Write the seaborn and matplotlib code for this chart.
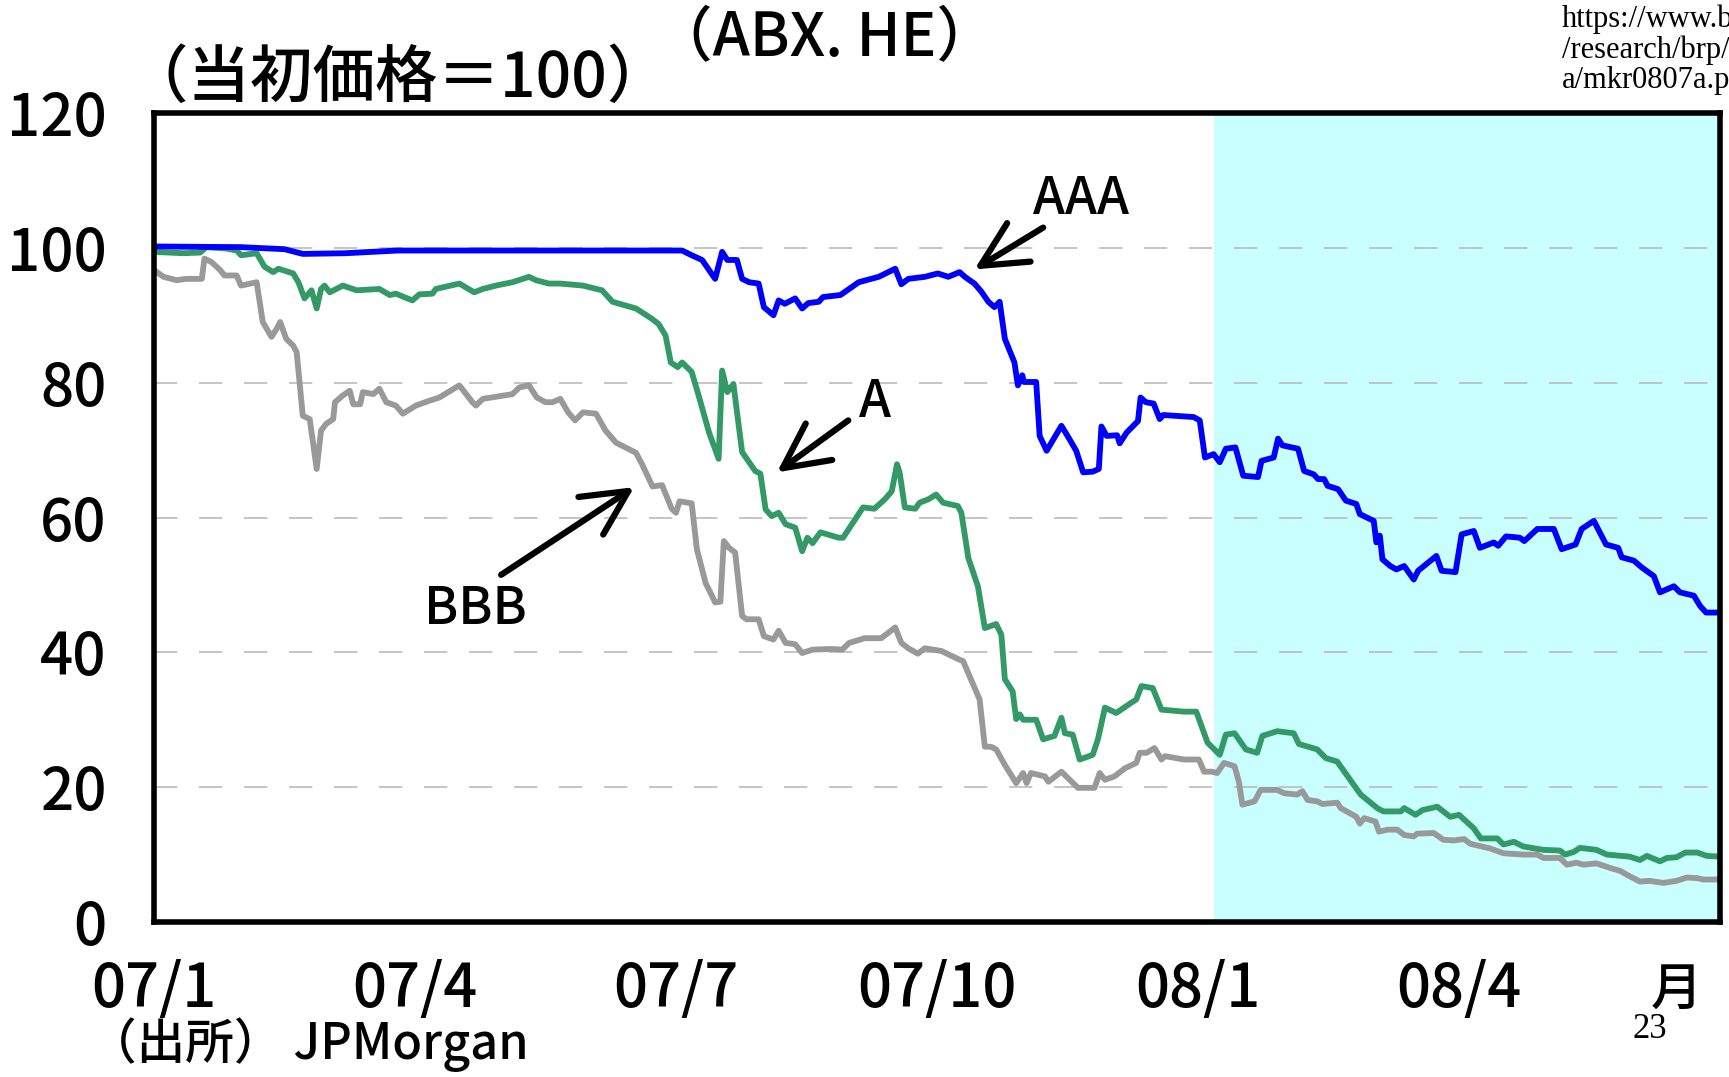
import matplotlib
matplotlib.use("Agg")
import matplotlib.pyplot as plt
import pandas as pd
import seaborn as sns

# ABX.HE price indices, months elapsed since 2007/01, initial price = 100
aaa_month = [0.0, 1.0, 1.5, 1.71, 2.2, 2.8, 6.07, 6.18, 6.3, 6.45, 6.53, 6.59, 6.70, 6.76, 6.84, 6.95,
             7.01, 7.12, 7.18, 7.25, 7.37, 7.45, 7.52, 7.64, 7.69, 7.89, 8.10, 8.33, 8.52, 8.59, 8.67,
             8.86, 9.01, 9.13, 9.26, 9.32, 9.43, 9.51, 9.59, 9.66, 9.72, 9.78, 9.89, 9.93, 9.98, 10.0,
             10.14, 10.18, 10.26, 10.43, 10.51, 10.60, 10.68, 10.79, 10.86, 10.89, 10.95, 11.07, 11.1,
             11.18, 11.31, 11.34, 11.4, 11.49, 11.56, 11.6, 11.95, 12.02, 12.08, 12.18, 12.25, 12.32,
             12.43, 12.52, 12.69, 12.73, 12.87, 12.92, 12.97, 13.15, 13.22, 13.33, 13.38, 13.45, 13.49,
             13.61, 13.7, 13.82, 13.86, 14.02, 14.05, 14.09, 14.12, 14.21, 14.28, 14.37, 14.48, 14.53,
             14.74, 14.8, 14.96, 15.03, 15.17, 15.24, 15.4, 15.45, 15.54, 15.7, 15.75, 15.9, 16.09,
             16.18, 16.34, 16.41, 16.55, 16.69, 16.83, 16.87, 17.01, 17.1, 17.24, 17.31, 17.47, 17.54,
             17.7, 17.77, 17.84, 18.0]
aaa_value = [100.2, 100.1, 99.8, 99.1, 99.2, 99.6, 99.6, 98.9, 98.2, 95.4, 99.4, 98.2, 98.2, 95.4, 94.9,
             94.7, 91.2, 90.0, 92.2, 91.7, 92.5, 91.0, 91.8, 92.0, 92.7, 93.0, 94.9, 95.7, 96.9, 94.6,
             95.4, 95.7, 96.2, 95.7, 96.4, 95.7, 94.7, 93.5, 92.0, 91.2, 92.0, 86.5, 83.0, 79.6, 81.1,
             80.1, 80.1, 72.1, 69.9, 73.6, 71.9, 69.9, 66.7, 66.8, 67.2, 73.5, 72.1, 72.2, 71.0, 72.6,
             74.3, 77.8, 77.1, 76.9, 74.6, 75.2, 74.9, 74.4, 68.9, 69.4, 68.2, 70.2, 70.4, 66.2, 66.0,
             68.4, 68.9, 71.7, 70.7, 70.2, 66.9, 66.4, 65.7, 65.7, 64.7, 64.2, 62.5, 62.0, 60.5, 59.5,
             56.3, 57.3, 53.8, 52.8, 52.3, 52.8, 50.8, 52.1, 54.3, 52.1, 51.9, 57.5, 58.0, 55.5, 56.3,
             55.8, 57.2, 57.0, 56.5, 58.3, 58.3, 55.3, 56.0, 58.3, 59.5, 56.0, 55.5, 54.1, 53.6, 52.6,
             51.3, 48.9, 49.8, 48.9, 48.4, 46.9, 45.9, 45.9]

a_month = [0.0, 0.34, 0.53, 0.60, 0.83, 0.95, 1.0, 1.18, 1.27, 1.37, 1.43, 1.6, 1.66, 1.73, 1.81, 1.87,
           1.92, 1.96, 2.02, 2.17, 2.33, 2.59, 2.71, 2.78, 2.97, 3.05, 3.2, 3.24, 3.51, 3.68, 3.78, 3.93,
           4.12, 4.31, 4.39, 4.54, 4.67, 4.93, 5.15, 5.27, 5.54, 5.72, 5.8, 5.88, 5.94, 6.02, 6.07, 6.18,
           6.26, 6.38, 6.49, 6.53, 6.59, 6.66, 6.76, 6.91, 6.97, 7.03, 7.1, 7.18, 7.26, 7.37, 7.45, 7.51,
           7.57, 7.66, 7.87, 7.92, 8.15, 8.28, 8.4, 8.48, 8.54, 8.57, 8.63, 8.75, 8.8, 8.9, 8.99, 9.07,
           9.24, 9.28, 9.36, 9.47, 9.55, 9.68, 9.74, 9.78, 9.87, 9.91, 9.95, 9.99, 10.14, 10.22, 10.35,
           10.43, 10.47, 10.56, 10.64, 10.79, 10.85, 10.93, 11.06, 11.23, 11.29, 11.35, 11.48, 11.58,
           11.84, 11.98, 12.11, 12.25, 12.32, 12.42, 12.55, 12.68, 12.74, 12.91, 13.1, 13.16, 13.37,
           13.47, 13.6, 13.87, 14.06, 14.13, 14.33, 14.37, 14.5, 14.58, 14.75, 14.9, 15.0, 15.17, 15.25,
           15.44, 15.51, 15.63, 15.74, 15.97, 16.16, 16.22, 16.32, 16.39, 16.58, 16.7, 16.96, 17.08,
           17.16, 17.31, 17.39, 17.5, 17.6, 17.74, 17.85, 18.0]
a_value = [99.4, 99.2, 99.3, 100.1, 99.9, 99.6, 98.9, 99.2, 97.2, 96.4, 96.9, 96.2, 94.9, 92.5, 93.7,
           91.0, 93.9, 94.4, 93.4, 94.4, 93.7, 93.9, 93.0, 93.2, 92.2, 93.1, 93.2, 93.9, 94.7, 93.4, 93.9,
           94.4, 94.9, 95.7, 95.2, 94.7, 94.7, 94.4, 93.7, 92.0, 91.0, 89.5, 88.7, 87.0, 83.0, 82.3, 83.0,
           81.6, 78.1, 72.6, 68.7, 81.8, 78.6, 79.8, 69.7, 66.9, 66.5, 61.2, 60.2, 60.7, 59.0, 58.5, 55.0,
           57.0, 56.2, 57.8, 57.0, 57.0, 61.5, 61.3, 62.7, 63.9, 67.9, 66.7, 61.5, 61.3, 62.2, 62.7, 63.4,
           62.2, 61.7, 60.7, 54.0, 49.8, 43.6, 44.2, 42.6, 36.0, 34.2, 30.1, 30.8, 30.0, 30.0, 27.1, 27.6,
           30.3, 28.0, 27.8, 24.1, 24.8, 27.1, 31.8, 31.0, 32.5, 33.0, 35.0, 34.7, 31.5, 31.2, 31.2, 26.6,
           24.8, 27.8, 28.0, 25.6, 25.1, 27.6, 28.3, 28.0, 26.4, 25.6, 24.3, 23.8, 18.9, 16.9, 16.4, 16.4,
           16.9, 15.9, 16.6, 17.1, 15.6, 15.9, 13.9, 12.4, 12.4, 11.5, 11.9, 11.2, 10.7, 10.6, 10.0, 10.4,
           11.0, 10.7, 10.0, 9.7, 9.2, 9.8, 9.0, 9.5, 9.6, 10.3, 10.3, 9.8, 9.7]

bbb_month = [0.0, 0.11, 0.26, 0.37, 0.55, 0.58, 0.66, 0.76, 0.81, 0.95, 1.0, 1.18, 1.25, 1.35, 1.41,
             1.45, 1.52, 1.6, 1.64, 1.71, 1.79, 1.87, 1.92, 1.98, 2.06, 2.08, 2.17, 2.25, 2.29, 2.37,
             2.4, 2.52, 2.59, 2.67, 2.78, 2.86, 3.01, 3.16, 3.28, 3.51, 3.66, 3.7, 3.78, 4.12, 4.2, 4.31,
             4.4, 4.5, 4.58, 4.67, 4.76, 4.84, 4.93, 5.08, 5.19, 5.31, 5.54, 5.61, 5.73, 5.84, 5.95, 6.0,
             6.04, 6.18, 6.24, 6.34, 6.45, 6.51, 6.55, 6.61, 6.68, 6.76, 6.81, 6.95, 7.01, 7.12, 7.18,
             7.26, 7.37, 7.45, 7.57, 7.79, 7.91, 7.99, 8.17, 8.36, 8.52, 8.59, 8.67, 8.78, 8.86, 9.05,
             9.26, 9.3, 9.43, 9.49, 9.55, 9.62, 9.68, 9.78, 9.91, 9.99, 10.03, 10.08, 10.24, 10.28, 10.43,
             10.62, 10.81, 10.87, 10.93, 11.04, 11.16, 11.29, 11.33, 11.41, 11.5, 11.58, 11.62, 11.84,
             12.01, 12.07, 12.16, 12.22, 12.3, 12.42, 12.47, 12.51, 12.65, 12.72, 12.91, 12.99, 13.14,
             13.2, 13.26, 13.37, 13.43, 13.6, 13.64, 13.82, 13.86, 13.91, 14.04, 14.08, 14.18, 14.29,
             14.37, 14.48, 14.52, 14.71, 14.82, 14.94, 15.06, 15.13, 15.36, 15.51, 15.74, 15.9, 15.97,
             16.16, 16.24, 16.35, 16.43, 16.58, 16.74, 16.85, 16.93, 17.08, 17.19, 17.35, 17.5, 17.62,
             17.74, 17.81, 18.0]
bbb_value = [96.7, 95.7, 95.2, 95.4, 95.4, 98.4, 97.9, 96.7, 95.9, 95.9, 94.4, 94.9, 89.0, 86.8, 88.0,
             89.0, 86.5, 85.5, 84.5, 75.1, 74.6, 67.2, 72.9, 73.9, 74.6, 77.1, 78.1, 78.8, 76.8, 76.8,
             78.6, 78.3, 79.1, 77.1, 76.6, 75.4, 76.6, 77.3, 77.8, 79.6, 77.1, 76.6, 77.6, 78.3, 79.3,
             79.6, 77.8, 77.1, 77.1, 77.6, 75.6, 74.4, 75.6, 75.4, 72.9, 71.1, 69.6, 67.9, 64.6, 64.8,
             61.3, 60.7, 62.4, 62.1, 55.3, 50.3, 47.4, 47.5, 56.5, 55.5, 54.8, 45.4, 44.9, 44.9, 42.4,
             41.9, 43.2, 41.4, 41.2, 39.9, 40.4, 40.5, 40.4, 41.4, 42.1, 42.1, 43.7, 41.4, 40.6, 39.8,
             40.6, 40.2, 38.9, 38.7, 34.8, 33.0, 26.0, 26.0, 25.6, 23.3, 20.6, 22.1, 20.6, 22.1, 21.6,
             20.8, 22.3, 19.9, 19.9, 22.1, 21.1, 21.6, 22.8, 23.6, 25.1, 25.1, 25.8, 24.1, 24.6, 24.1,
             24.1, 22.3, 22.3, 22.1, 23.6, 23.1, 20.8, 17.4, 17.9, 19.6, 19.6, 19.1, 18.9, 19.4, 18.1,
             17.9, 17.5, 17.7, 16.9, 15.6, 14.6, 15.4, 14.9, 13.4, 13.7, 13.7, 12.9, 12.7, 13.1, 13.2,
             12.2, 12.1, 12.3, 11.6, 10.9, 10.2, 10.0, 10.0, 9.5, 9.5, 8.5, 8.8, 8.5, 8.7, 8.0, 7.6,
             7.0, 6.0, 6.1, 5.8, 6.1, 6.6, 6.5, 6.3, 6.3]

series_names = ["BBB", "A", "AAA"]
series_colors = {"AAA": "#0000FF", "A": "#339966", "BBB": "#999999"}

tick_months = [0, 3, 6, 9, 12, 15]
tick_labels = ["07/1", "07/4", "07/7", "07/10", "08/1", "08/4"]
y_ticks = [0, 20, 40, 60, 80, 100, 120]
shade_start, shade_end = 12.18, 18.0

sns.set_style("white")
plt.rcParams["font.family"] = ["Noto Sans CJK JP", "DejaVu Sans"]
plt.rcParams["font.weight"] = "medium"
plt.rcParams["text.color"] = "black"
plt.rcParams["xtick.color"] = "black"
plt.rcParams["ytick.color"] = "black"

W, H = 1729, 1077
fig = plt.figure(figsize=(W / 100, H / 100), dpi=100)
ax = fig.add_axes([154 / W, 1 - 922 / H, (1720 - 154) / W, (922 - 113) / H])

ax.axvspan(shade_start, shade_end, color="#C9FFFF", lw=0, zorder=0)

frames = []
for name, m, v in [("AAA", aaa_month, aaa_value), ("A", a_month, a_value), ("BBB", bbb_month, bbb_value)]:
    frames.append(pd.DataFrame({"month": m, "value": v, "series": name}))
df = pd.concat(frames, ignore_index=True)

sns.lineplot(data=df, x="month", y="value", hue="series", hue_order=series_names,
             palette=series_colors, estimator=None, sort=False, legend=False,
             linewidth=4.2, ax=ax)
for line in ax.lines:
    line.set_solid_joinstyle("round")
    line.set_solid_capstyle("round")

ax.set_xlim(0, 18)
ax.set_ylim(0, 120)
ax.set_xticks(tick_months)
ax.set_xticklabels(tick_labels)
ax.set_yticks(y_ticks)
ax.set_xlabel("")
ax.set_ylabel("")
ax.tick_params(axis="x", direction="out", length=11, width=3.5, pad=16, labelsize=43)
ax.tick_params(axis="y", length=0, pad=34, labelsize=42)
ax.set_axisbelow(True)
ax.yaxis.grid(True, color="#BBBBBB", linestyle=(0, (14, 13)), linewidth=1.2)
ax.xaxis.grid(False)
for s in ax.spines.values():
    s.set_linewidth(4)
    s.set_color("black")

# series labels with pointer arrows
arrow_kw = dict(arrowstyle="->,head_length=0.9,head_width=0.45", lw=4.5, color="black",
                mutation_scale=36, shrinkA=0, shrinkB=0)
ax.annotate("", xy=(9.43, 96.8), xytext=(10.22, 103.0), arrowprops=arrow_kw)
ax.annotate("", xy=(7.16, 66.7), xytext=(7.98, 74.4), arrowprops=arrow_kw)
ax.annotate("", xy=(5.52, 64.5), xytext=(3.99, 51.5), arrowprops=arrow_kw)
ax.text(10.66, 107.2, "AAA", ha="center", va="center", fontsize=37)
ax.text(8.29, 77.2, "A", ha="center", va="center", fontsize=37)
ax.text(3.69, 46.4, "BBB", ha="center", va="center", fontsize=37)


def ftext(x, y, s, **kw):
    fig.text(x / W, 1 - y / H, s, **kw)


ftext(825, 39, "（ABX. HE）", ha="center", va="center", fontsize=43)
ftext(126, 79, "（当初価格＝100）", ha="left", va="center", fontsize=45)
ftext(88, 1045, "（出所） JPMorgan", ha="left", va="center", fontsize=35)
ftext(1676, 990, "月", ha="center", va="center", fontsize=37)
ftext(1650, 1030, "23", ha="center", va="center", fontsize=25, family="Liberation Serif",
      fontweight="normal")
for y, s in [(27, "https://www.boj.or.jp"), (58, "/research/brp/fsr/dat"), (88, "a/mkr0807a.pdf")]:
    ftext(1562, y, s, ha="left", va="baseline", fontsize=22, family="Liberation Serif",
          fontweight="normal")

fig.savefig("out.png", dpi=100)
